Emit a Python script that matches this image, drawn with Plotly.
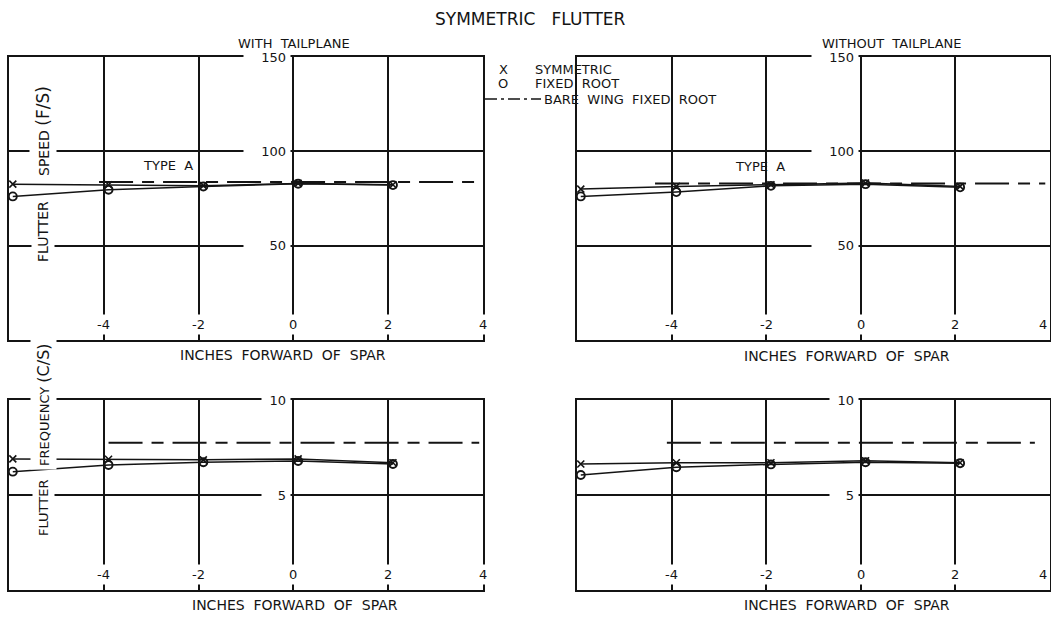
import plotly.graph_objects as go

# ---- data -------------------------------------------------------------
# positions of the test points, inches forward of the spar
x_pos = [-5.92, -3.9, -1.9, 0.1, 2.1]

# flutter speed (ft/s)
speed_sym_with = [82.6, 82.3, 81.8, 83.0, 82.3]
speed_fixed_with = [76.1, 79.6, 81.4, 82.8, 82.1]
speed_sym_without = [80.0, 81.4, 82.3, 83.2, 81.4]
speed_fixed_without = [76.1, 78.4, 81.7, 82.6, 80.9]

# flutter frequency (c/s)
freq_sym_with = [6.9, 6.88, 6.85, 6.9, 6.7]
freq_fixed_with = [6.23, 6.58, 6.72, 6.79, 6.63]
freq_sym_without = [6.63, 6.7, 6.7, 6.8, 6.7]
freq_fixed_without = [6.05, 6.46, 6.61, 6.72, 6.67]

# bare wing, fixed root reference levels (start/end of the drawn line)
bare_speed_with_x = [-4.1, 4.2]
bare_speed_with = [83.7, 83.7]
bare_speed_without_x = [-4.35, 3.9]
bare_speed_without = [83.0, 83.0]
bare_freq_with_x = [-3.9, 3.92]
bare_freq_with = [7.75, 7.75]
bare_freq_without_x = [-4.1, 3.68]
bare_freq_without = [7.75, 7.75]

x_ticks = [-4, -2, 0, 2, 4]
x_tick_text = ["-4", "-2", "0", "2", "4"]
speed_ticks = [50, 100, 150]
freq_ticks = [5, 10]

# ---- styling ----------------------------------------------------------
W, H = 1051, 617
INK = "#141414"
FONT = "DejaVu Sans"


def px_x(p):
    return p / W


def px_y(p):
    return 1 - p / H


LEFT = [px_x(9), px_x(483)]
RIGHT = [px_x(577), px_x(1050)]
TOP = [px_y(340), px_y(57)]
BOTTOM = [px_y(590), px_y(400)]

DASH = "34px,9px,12px,9px"

fig = go.Figure()

panels = [
    # (axis suffix, symmetric, fixed root, bare x, bare y)
    ("", speed_sym_with, speed_fixed_with, bare_speed_with_x, bare_speed_with),
    ("2", speed_sym_without, speed_fixed_without, bare_speed_without_x, bare_speed_without),
    ("3", freq_sym_with, freq_fixed_with, bare_freq_with_x, bare_freq_with),
    ("4", freq_sym_without, freq_fixed_without, bare_freq_without_x, bare_freq_without),
]

for suf, sym, fixed, bx, by in panels:
    xa, ya = "x" + suf, "y" + suf
    fig.add_trace(go.Scatter(
        x=bx, y=by, xaxis=xa, yaxis=ya, mode="lines",
        line=dict(color=INK, width=2, dash=DASH),
        showlegend=False, hoverinfo="skip"))
    fig.add_trace(go.Scatter(
        x=x_pos, y=sym, xaxis=xa, yaxis=ya, mode="lines+markers",
        line=dict(color=INK, width=1.5),
        marker=dict(symbol="x-thin-open", size=7, line=dict(color=INK, width=1.6)),
        showlegend=False))
    fig.add_trace(go.Scatter(
        x=x_pos, y=fixed, xaxis=xa, yaxis=ya, mode="lines+markers",
        line=dict(color=INK, width=1.5),
        marker=dict(symbol="circle-open", size=8, line=dict(color=INK, width=1.9)),
        showlegend=False))

axis_common = dict(
    showgrid=True, gridcolor=INK, gridwidth=1.5, zeroline=False,
    showline=True, linecolor=INK, linewidth=2, mirror=True,
    ticks="", showticklabels=False, fixedrange=True,
)

layout_axes = {}
for suf, xdom, ydom, yr, yt in [
    ("", LEFT, TOP, [0, 150], [50, 100]),
    ("2", RIGHT, TOP, [0, 150], [50, 100]),
    ("3", LEFT, BOTTOM, [0, 10], [5]),
    ("4", RIGHT, BOTTOM, [0, 10], [5]),
]:
    layout_axes["xaxis" + suf] = dict(
        axis_common, domain=xdom, range=[-6, 4], tickvals=[-4, -2, 0, 2],
        anchor="y" + suf)
    layout_axes["yaxis" + suf] = dict(
        axis_common, domain=ydom, range=yr, tickvals=yt, anchor="x" + suf)

annotations = []

# tick labels drawn inside the frames, masking the grid behind them
for suf in ["", "2", "3", "4"]:
    for v, t in zip(x_ticks, x_tick_text):
        at_edge = suf in ("2", "4") and v == x_ticks[-1]
        annotations.append(dict(
            x=v, y=0, xref="x" + suf, yref=("y" + suf) + " domain",
            text=t, showarrow=False,
            xanchor="right" if at_edge else "center", yanchor="bottom",
            yshift=5, bgcolor="white", borderpad=2,
            font=dict(family=FONT, size=13, color=INK)))

for suf in ["", "2"]:
    for v in speed_ticks:
        annotations.append(dict(
            x=0, y=v, xref="x" + suf, yref="y" + suf, text=str(v),
            showarrow=False, xanchor="right", yanchor="middle", xshift=-2,
            width=38, align="right", bgcolor="white", borderpad=4,
            font=dict(family=FONT, size=13, color=INK)))
for suf in ["3", "4"]:
    for v in freq_ticks:
        annotations.append(dict(
            x=0, y=v, xref="x" + suf, yref="y" + suf, text=str(v),
            showarrow=False, xanchor="right", yanchor="middle", xshift=-2,
            width=20, align="right", bgcolor="white", borderpad=4,
            font=dict(family=FONT, size=13, color=INK)))


def paper_text(text, px, py, size, anchor="center", angle=0, bg=None):
    d = dict(x=px_x(px), y=px_y(py), xref="paper", yref="paper", text=text,
             showarrow=False, xanchor=anchor, yanchor="middle",
             textangle=angle, font=dict(family=FONT, size=size, color=INK))
    if bg:
        d["bgcolor"] = bg
        d["borderpad"] = 3
    return d


AXIS_TITLE = "INCHES&nbsp;&nbsp;FORWARD&nbsp;&nbsp;OF&nbsp;&nbsp;SPAR"

annotations += [
    paper_text("SYMMETRIC&nbsp;&nbsp;&nbsp;FLUTTER", 530, 19, 17),
    paper_text("WITH&nbsp;&nbsp;TAILPLANE", 294, 43, 13),
    paper_text("WITHOUT&nbsp;&nbsp;TAILPLANE", 891, 43, 13),
    paper_text(AXIS_TITLE, 283, 355, 14),
    paper_text(AXIS_TITLE, 295, 605, 14),
    paper_text(AXIS_TITLE, 847, 356, 14),
    paper_text(AXIS_TITLE, 847, 605, 14),
    # vertical axis titles
    paper_text("FLUTTER", 43, 232, 14, angle=-90, bg="white"),
    paper_text("SPEED <span style='font-size:17px'>(F/S)</span>", 43, 131, 14, angle=-90, bg="white"),
    paper_text("FLUTTER", 43, 508, 13, angle=-90, bg="white"),
    paper_text("FREQUENCY <span style='font-size:16px'>(C/S)</span>", 43, 405, 13, angle=-90, bg="white"),
    # key
    paper_text("X", 503, 70, 13),
    paper_text("SYMMETRIC", 533, 70, 13, anchor="left"),
    paper_text("O", 503, 84, 13),
    paper_text("FIXED&nbsp;&nbsp;ROOT", 533, 84, 13, anchor="left"),
    paper_text("BARE&nbsp;&nbsp;WING&nbsp;&nbsp;FIXED&nbsp;&nbsp;ROOT", 542, 99, 13, anchor="left"),
]

# "TYPE A" labels placed in data space
annotations.append(dict(x=-2.65, y=92.3, xref="x", yref="y", text="TYPE&nbsp;&nbsp;A",
                        showarrow=False, font=dict(family=FONT, size=13, color=INK)))
annotations.append(dict(x=-2.13, y=92.0, xref="x2", yref="y2", text="TYPE&nbsp;&nbsp;A",
                        showarrow=False, font=dict(family=FONT, size=13, color=INK)))

shapes = [dict(type="line", xref="paper", yref="paper",
               x0=px_x(485), x1=px_x(541), y0=px_y(99), y1=px_y(99),
               line=dict(color=INK, width=1.5, dash="12px,4px,3px,4px"))]

fig.update_layout(
    width=W, height=H, margin=dict(l=0, r=0, t=0, b=0),
    paper_bgcolor="white", plot_bgcolor="white",
    showlegend=False, annotations=annotations, shapes=shapes,
    **layout_axes,
)

fig.write_html("out.html")
